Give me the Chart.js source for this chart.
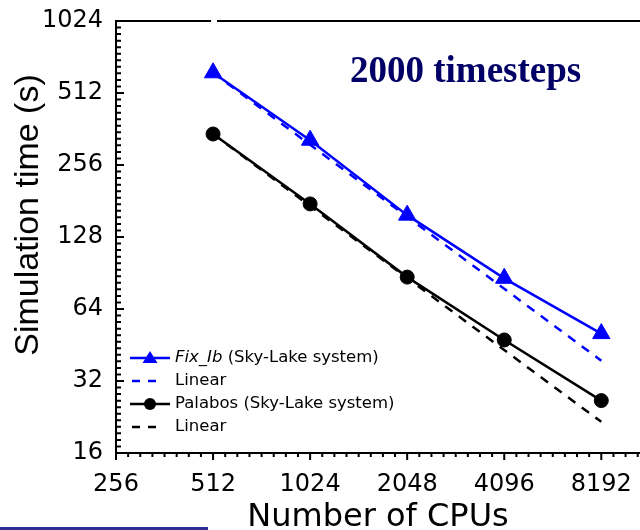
<!DOCTYPE html>
<html>
<head>
<meta charset="utf-8">
<script src="https://cdn.jsdelivr.net/npm/chart.js@4/dist/chart.umd.min.js"></script>
<style>
  html, body { margin: 0; background: #fff; overflow: hidden; }
  #wrap { width: 640px; height: 530px; position: relative; }
</style>
</head>
<body>
<div id="wrap"><canvas id="chart"></canvas></div>
<script>
// values
const cpus = [512, 1024, 2048, 4096, 8192];
const fixIbTime = [622, 325, 158, 86, 50.5];
const fixIbLinear = [622, 311, 155.5, 77.8, 38.9];
const palabosTime = [345, 176, 87, 47.5, 26.5];
const palabosLinear = [345, 172.5, 86.3, 43.1, 21.6];

const xTicks = [256, 512, 1024, 2048, 4096, 8192];
const yTicks = [16, 32, 64, 128, 256, 512, 1024];

const pts = (xs, ys) => xs.map((x, i) => ({ x: x, y: ys[i] }));

// no extra room for overhanging tick labels
const noPad = (scale) => {
  scale.paddingTop = 0;
  scale.paddingBottom = 0;
  scale.paddingLeft = 0;
  scale.paddingRight = 0;
};

// minor ticks, legend, title text etc.
const decor = {
  id: 'decor',
  afterDraw(chart) {
    const ctx = chart.ctx;
    const xs = chart.scales.x, ys = chart.scales.y;
    const area = chart.chartArea;
    ctx.save();
    ctx.strokeStyle = '#000';
    ctx.lineWidth = 2;

    // top frame line (small break above 512)
    const gap = xs.getPixelForValue(512);
    ctx.beginPath();
    ctx.moveTo(area.left, area.top);
    ctx.lineTo(gap - 2, area.top);
    ctx.moveTo(gap + 4, area.top);
    ctx.lineTo(area.right, area.top);
    ctx.stroke();

    // y ticks point inward
    ctx.beginPath();
    for (let k = 4; k < 10; k++) {
      for (let j = 1; j <= 10; j++) {
        const py = ys.getPixelForValue(Math.pow(2, k + j / 11));
        ctx.moveTo(area.left, py);
        ctx.lineTo(area.left + 5, py);
      }
    }
    yTicks.forEach(v => {
      const py = ys.getPixelForValue(v);
      ctx.moveTo(area.left, py);
      ctx.lineTo(area.left + 8, py);
    });
    // x ticks point outward
    for (let k = 8; k < 14; k++) {
      for (let j = 1; j <= 7; j++) {
        const px = xs.getPixelForValue(Math.pow(2, k + j / 8));
        if (px > area.right) continue;
        ctx.moveTo(px, area.bottom);
        ctx.lineTo(px, area.bottom + 4);
      }
    }
    xTicks.forEach(v => {
      const px = xs.getPixelForValue(v);
      ctx.moveTo(px, area.bottom);
      ctx.lineTo(px, area.bottom + 7);
    });
    ctx.stroke();

    // y axis title, sits a bit above the axis middle
    ctx.save();
    ctx.translate(29, 215);
    ctx.rotate(-Math.PI / 2);
    ctx.fillStyle = '#000';
    ctx.font = '34px "Liberation Sans", Arial, sans-serif';
    ctx.textAlign = 'center';
    ctx.textBaseline = 'middle';
    ctx.fillText('Simulation time (s)', 0, 0);
    ctx.restore();

    // annotation
    ctx.fillStyle = '#000066';
    ctx.font = 'bold 37px "Liberation Serif", "Times New Roman", serif';
    ctx.textBaseline = 'alphabetic';
    ctx.textAlign = 'left';
    ctx.fillText('2000 timesteps', 350, 82);

    // legend inside the plot
    const rows = [
      { color: '#0000ff', dash: false, marker: 'tri', name: 'Fix_Ib', rest: ' (Sky-Lake system)' },
      { color: '#0000ff', dash: true, name: '', rest: 'Linear' },
      { color: '#000000', dash: false, marker: 'dot', name: '', rest: 'Palabos (Sky-Lake system)' },
      { color: '#000000', dash: true, name: '', rest: 'Linear' }
    ];
    const rowY = [358, 381, 404, 427];
    ctx.textBaseline = 'middle';
    rows.forEach((r, i) => {
      const y = rowY[i];
      ctx.strokeStyle = r.color;
      ctx.fillStyle = r.color;
      ctx.lineWidth = 2.5;
      ctx.beginPath();
      if (r.dash) {
        ctx.setLineDash([8, 8]);
        ctx.moveTo(132, y);
        ctx.lineTo(158, y);
      } else {
        ctx.setLineDash([]);
        ctx.moveTo(130, y);
        ctx.lineTo(170, y);
      }
      ctx.stroke();
      ctx.setLineDash([]);
      if (r.marker === 'tri') {
        ctx.beginPath();
        ctx.moveTo(150, y - 7);
        ctx.lineTo(157.5, y + 5);
        ctx.lineTo(142.5, y + 5);
        ctx.closePath();
        ctx.fill();
      } else if (r.marker === 'dot') {
        ctx.beginPath();
        ctx.arc(150, y, 6, 0, Math.PI * 2);
        ctx.fill();
      }
      ctx.fillStyle = '#000';
      let tx = 175;
      if (r.name) {
        ctx.font = 'italic 16.5px "DejaVu Sans", sans-serif';
        ctx.fillText(r.name, tx, y);
        tx += ctx.measureText(r.name).width;
      }
      ctx.font = '16.5px "DejaVu Sans", sans-serif';
      ctx.fillText(r.rest, tx, y);
    });

    // stray rule at the bottom-left of the figure
    ctx.fillStyle = '#2e3192';
    ctx.fillRect(0, 527, 208, 3);
    ctx.restore();
  }
};

const ctx = document.getElementById('chart').getContext('2d');
new Chart(ctx, {
  type: 'line',
  data: {
    datasets: [
      {
        label: 'Fix_Ib (Sky-Lake system)',
        data: pts(cpus, fixIbTime),
        borderColor: '#0000ff',
        backgroundColor: '#0000ff',
        borderWidth: 2.5,
        pointStyle: 'triangle',
        pointRadius: 10,
        pointBorderWidth: 1
      },
      {
        label: 'Palabos (Sky-Lake system)',
        data: pts(cpus, palabosTime),
        borderColor: '#000000',
        backgroundColor: '#000000',
        borderWidth: 2.5,
        pointStyle: 'circle',
        pointRadius: 7,
        pointBorderWidth: 1
      },
      {
        label: 'Linear',
        data: pts(cpus, fixIbLinear),
        borderColor: '#0000ff',
        borderWidth: 2.5,
        borderDash: [9, 8],
        pointRadius: 0
      },
      {
        label: 'Linear',
        data: pts(cpus, palabosLinear),
        borderColor: '#000000',
        borderWidth: 2.5,
        borderDash: [9, 8],
        pointRadius: 0
      }
    ]
  },
  options: {
    responsive: true,
    maintainAspectRatio: false,
    animation: false,
    layout: { autoPadding: false, padding: { top: 21, left: 0, right: 0, bottom: 0 } },
    plugins: {
      legend: { display: false },
      tooltip: { enabled: false },
      title: { display: false }
    },
    scales: {
      x: {
        type: 'logarithmic',
        min: 256,
        max: 10800,
        afterBuildTicks: (scale) => { scale.ticks = xTicks.map(v => ({ value: v })); },
        afterFit: (scale) => { scale.height = 77; noPad(scale); },
        ticks: {
          autoSkip: false,
          maxRotation: 0,
          padding: 17,
          color: '#000',
          font: { family: 'DejaVu Sans', size: 24 },
          callback: (v) => String(v)
        },
        grid: { display: true, drawOnChartArea: false, drawTicks: false, color: 'rgba(0,0,0,0)' },
        border: { display: true, color: '#000', width: 2 },
        title: {
          display: true,
          text: 'Number of CPUs',
          color: '#000',
          font: { family: 'DejaVu Sans', size: 32 },
          padding: { top: 0, bottom: -7 }
        }
      },
      y: {
        type: 'logarithmic',
        min: 16,
        max: 1024,
        afterBuildTicks: (scale) => { scale.ticks = yTicks.map(v => ({ value: v })); },
        afterFit: (scale) => { scale.width = 116; noPad(scale); },
        ticks: {
          autoSkip: false,
          padding: 13,
          color: '#000',
          font: { family: 'DejaVu Sans', size: 24 },
          callback: (v) => String(v)
        },
        grid: { display: true, drawOnChartArea: false, drawTicks: false, color: 'rgba(0,0,0,0)' },
        border: { display: true, color: '#000', width: 2 }
      }
    }
  },
  plugins: [decor]
});
</script>
</body>
</html>
